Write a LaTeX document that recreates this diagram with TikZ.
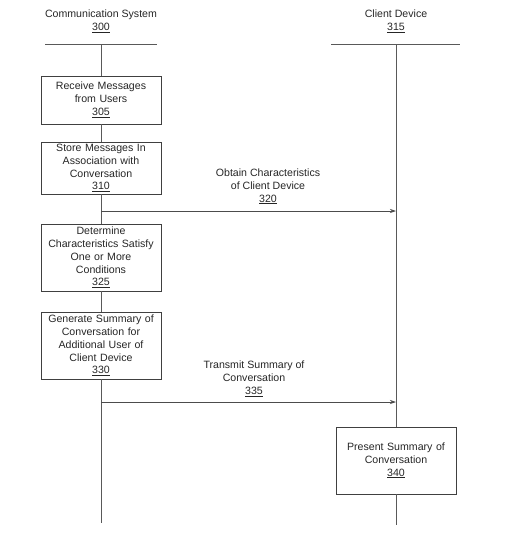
\documentclass[tikz,border=0pt]{standalone}
\usepackage{fontspec}
\setmainfont{Liberation Sans}
\usetikzlibrary{arrows.meta}
\begin{document}
\begin{tikzpicture}[x=1pt,y=-1pt,
  every node/.style={font=\fontsize{10.6}{12.8}\selectfont, text=black!85, align=center, inner sep=0pt},
  stepbox/.style={draw=black!75, line width=0.7pt, minimum width=120pt, text width=118pt},
  life/.style={draw=black!65, line width=0.8pt},
  msg/.style={draw=black!70, line width=0.7pt, -{Stealth[length=6pt,width=4pt]}}]
\useasboundingbox (0,0) rectangle (509,552);
% headers
\node (hA) at (101,21.5) {Communication System\\\underline{300}};
\node (hB) at (396,21.5) {Client Device\\\underline{315}};
\coordinate (a0) at (101,44);
\coordinate (b0) at (396,44);
\draw[life] (45,44) -- (157,44);
\draw[life] (331,44) -- (460,44);
% boxes
\node[stepbox, minimum height=48pt] (s305) at (101,100) {Receive Messages\\from Users\\\underline{305}};
\node[stepbox, minimum height=52pt] (s310) at (101,168) {Store Messages In\\Association with\\Conversation\\\underline{310}};
\node[stepbox, minimum height=67pt] (s325) at (101,257.5) {Determine\\Characteristics Satisfy\\One or More\\Conditions\\\underline{325}};
\node[stepbox, minimum height=67pt] (s330) at (101,345.5) {Generate Summary of\\Conversation for\\Additional User of\\Client Device\\\underline{330}};
\node[stepbox, minimum height=67pt] (s340) at (396,460.5) {Present Summary of\\Conversation\\\underline{340}};
\coordinate (aE) at (101,523);
\coordinate (bE) at (396,525);
% lifelines
\draw[life] (a0) -- (s305.north);
\draw[life] (s305.south) -- (s310.north);
\draw[life] (s310.south) -- (s325.north);
\draw[life] (s325.south) -- (s330.north);
\draw[life] (s330.south) -- (aE);
\draw[life] (b0) -- (s340.north);
\draw[life] (s340.south) -- (bE);
% messages
\coordinate (m1a) at (101,211);
\coordinate (m1b) at (396,211);
\coordinate (m2a) at (101,402);
\coordinate (m2b) at (396,402);
\draw[msg] (m1a) -- (m1b);
\draw[msg] (m2a) -- (m2b);
\node (l320) at (268,186.5) {Obtain Characteristics\\of Client Device\\\underline{320}};
\node (l335) at (254,379) {Transmit Summary of\\Conversation\\\underline{335}};
\end{tikzpicture}
\end{document}
